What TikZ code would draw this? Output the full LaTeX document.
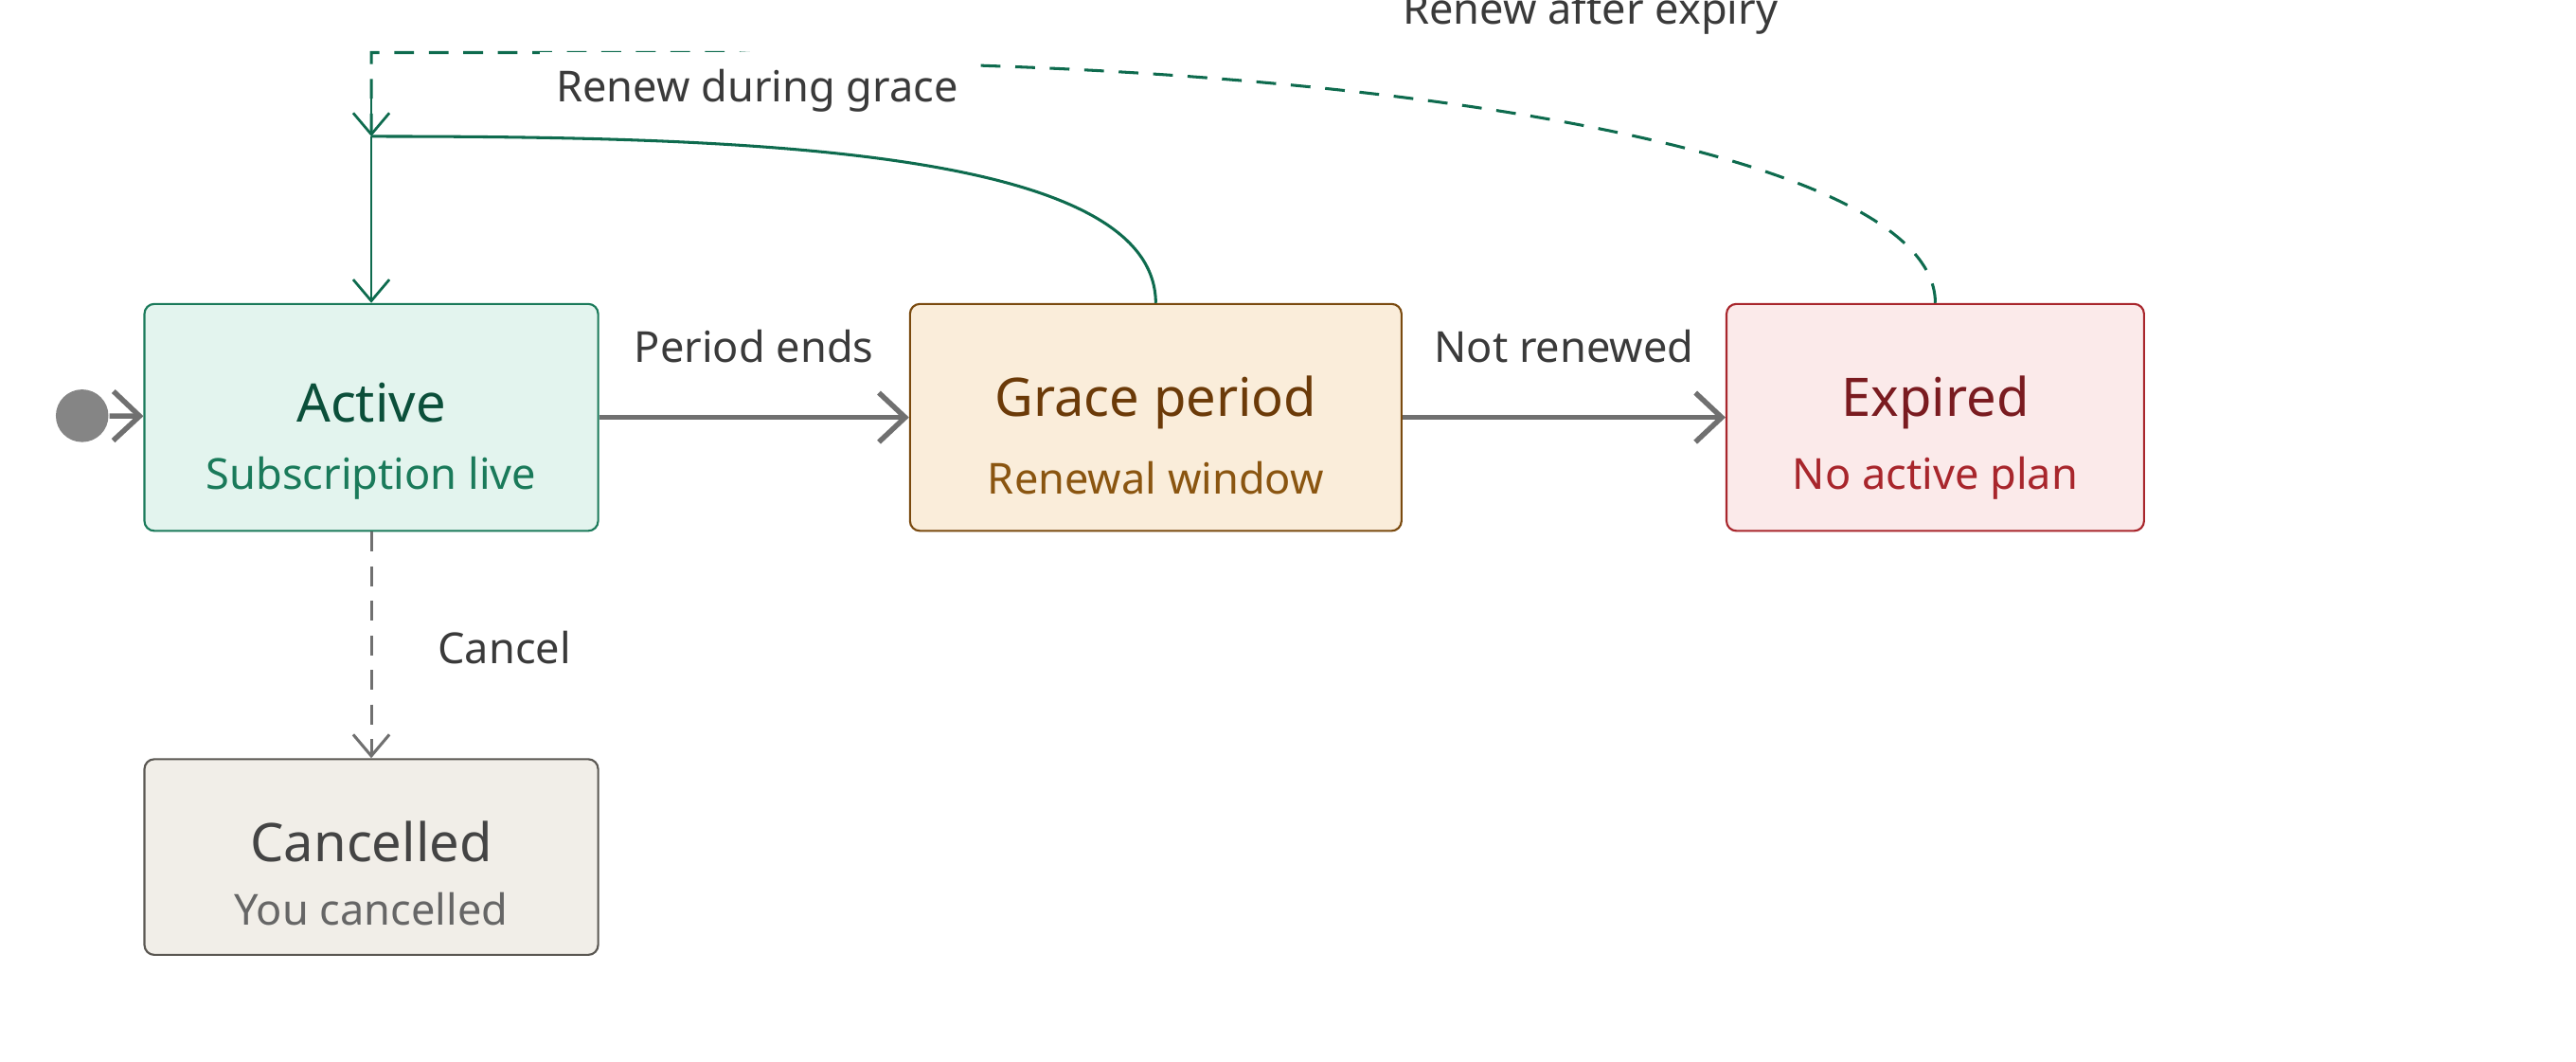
\documentclass[tikz,border=0pt]{standalone}
\usepackage{fontspec}
\setmainfont{Noto Sans}
\usetikzlibrary{arrows.meta}
\definecolor{gA}{HTML}{E3F4EE}\definecolor{gB}{HTML}{1A7A5A}\definecolor{gT}{HTML}{0B4F3A}
\definecolor{oA}{HTML}{FAEDDA}\definecolor{oB}{HTML}{7A4A0F}\definecolor{oT}{HTML}{6B3A08}\definecolor{oS}{HTML}{8A5510}
\definecolor{rA}{HTML}{FBEAEA}\definecolor{rB}{HTML}{A8262C}\definecolor{rT}{HTML}{7A1B20}
\definecolor{cA}{HTML}{F1EEE8}\definecolor{cB}{HTML}{5A5752}\definecolor{cT}{HTML}{444444}\definecolor{cS}{HTML}{666666}
\definecolor{gr}{HTML}{707070}\definecolor{lab}{HTML}{3A3A3A}\definecolor{ge}{HTML}{0E6B4E}
\begin{document}
\begin{tikzpicture}[x=0.01cm,y=-0.01cm,
 st/.style={draw,rounded corners=0.6mm,line width=0.35pt,inner sep=0pt},
 ttl/.style={font=\fontsize{9.2}{10}\selectfont\bfseries},
 sub/.style={font=\fontsize{7.4}{8}\selectfont},
 lb/.style={font=\fontsize{7.4}{8}\selectfont,text=lab},
 ga/.style={draw=gr,line width=0.9pt,-{Straight Barb[length=1.6mm,width=3mm]}},
 ea/.style={draw=ge,line width=0.45pt,-{Straight Barb[length=1.3mm,width=2.2mm]}}]
\useasboundingbox (0,0) rectangle (1568,646);
\node[st,fill=gA,draw=gB,minimum width=276\pgflinewidth*0+2.76cm,minimum height=1.38cm] (act) at (226,254) {};
\node[ttl,text=gT] at (226,245) {Active};
\node[sub,text=gB] at (226,291) {Subscription live};
\node[st,fill=oA,draw=oB,minimum width=2.99cm,minimum height=1.38cm] (gra) at (703.5,254) {};
\node[ttl,text=oT] at (703.5,245) {Grace period};
\node[sub,text=oS] at (703.5,291) {Renewal window};
\node[st,fill=rA,draw=rB,minimum width=2.54cm,minimum height=1.38cm] (exp) at (1178,254) {};
\node[ttl,text=rT] at (1178,245) {Expired};
\node[sub,text=rB] at (1178,291) {No active plan};
\node[st,fill=cA,draw=cB,minimum width=2.76cm,minimum height=1.19cm] (can) at (226,521.5) {};
\node[ttl,text=cT] at (226,512) {Cancelled};
\node[sub,text=cS] at (226,553) {You cancelled};
\node[circle,fill=gr!85,minimum size=0.32cm,inner sep=0pt] (ini) at (50,253) {};
\draw[ga] (ini) -- (act);
\draw[ga] (act) -- node[lb,above=2mm] {Period ends} (gra);
\draw[ga] (gra) -- node[lb,above=2mm] {Not renewed} (exp);
\draw[draw=gr,line width=0.5pt,dash pattern=on 1.2mm off 0.9mm,-{Straight Barb[length=1.3mm,width=2.2mm]}] (act) -- (can);
\node[lb] at (307,394) {Cancel};
\coordinate (j1) at (226,83);
\coordinate (j2) at (226,32);
\draw[ge,line width=0.5pt,dash pattern=on 1.2mm off 0.9mm] (exp.north) .. controls (1178,100) and (900,50) .. (600,40) -- (445,32) -- (j2) -- (j1);
\draw[ea,dash pattern=on 1.2mm off 0.9mm] (226,60) -- (j1);
\draw[ge,line width=0.5pt] (gra.north) .. controls (703,90) and (450,83) .. (j1);
\draw[ea] (j1) -- (act.north);
\node[lb,fill=white,inner sep=1mm] at (461,55) {Renew during grace};
\node[lb] at (968,8) {Renew after expiry};
\end{tikzpicture}
\end{document}
